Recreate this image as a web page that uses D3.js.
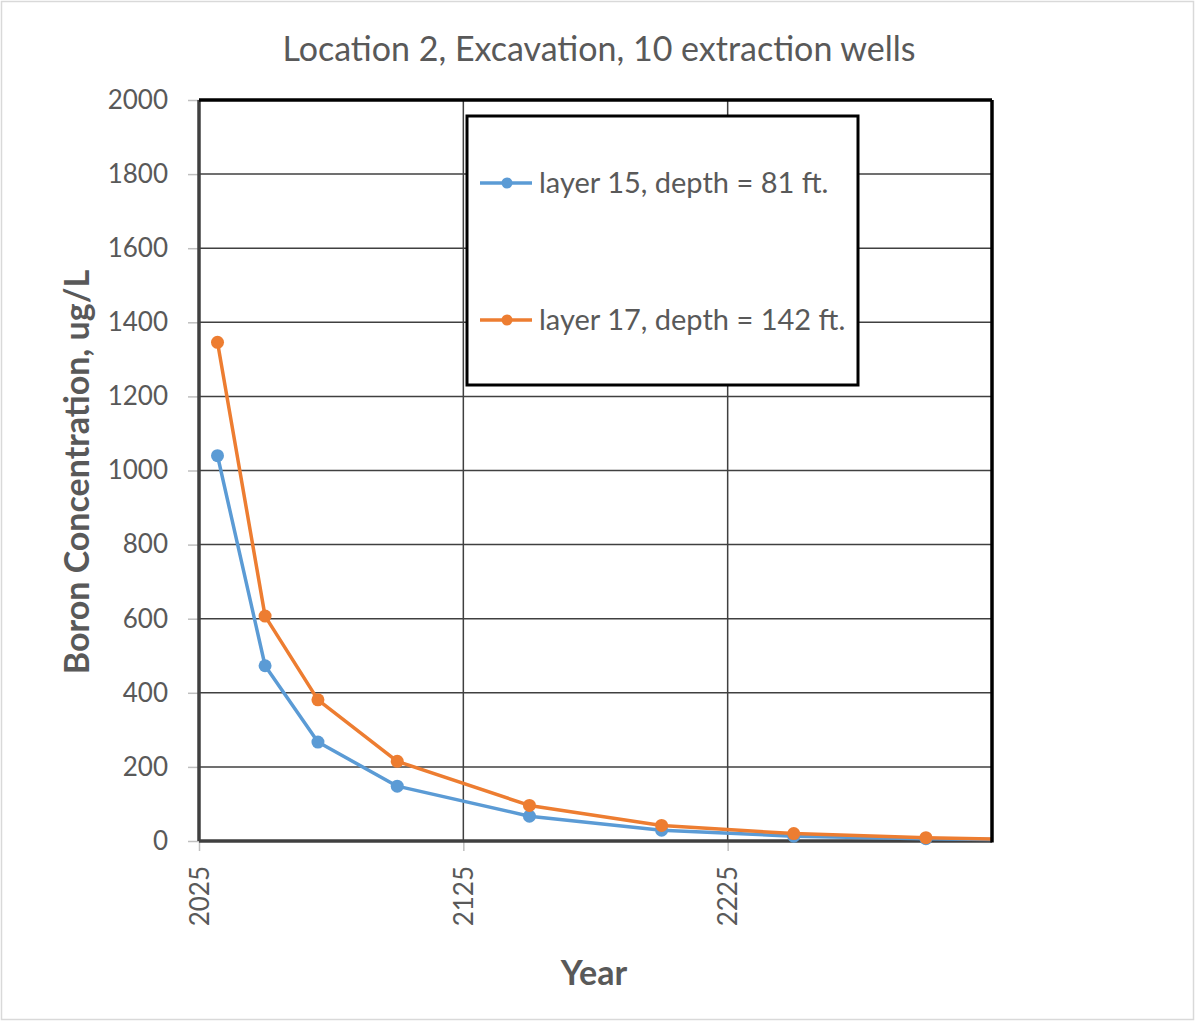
<!DOCTYPE html>
<html>
<head>
<meta charset="utf-8">
<script src="https://cdn.jsdelivr.net/npm/d3@7"></script>
<style>
  body { margin: 0; background: #fff; }
  text { font-family: Lato, "Open Sans", sans-serif; fill: #595959; }
</style>
</head>
<body>
<div id="chart"></div>
<script>
var years = [2032, 2050, 2070, 2100, 2150, 2200, 2250, 2300, 2350];
var layer15 = [1040, 473, 267, 148, 67, 29, 13, 6, 2];
var layer17 = [1346, 607, 381, 215, 96, 42, 20, 9, 2];
var seriesNames = ["layer 15, depth = 81 ft.", "layer 17, depth = 142 ft."];
var seriesColors = ["#5B9BD5", "#ED7D31"];
var yTicks = [0, 200, 400, 600, 800, 1000, 1200, 1400, 1600, 1800, 2000];
var xTicks = [2025, 2125, 2225];

var svgWidth = 1196, svgHeight = 1022;
var pLeft = 199, pRight = 992, pTop = 100, pBottom = 841;

var svg = d3.select("#chart").append("svg")
    .attr("width", svgWidth)
    .attr("height", svgHeight);

// outer frame
svg.append("rect")
    .attr("x", 1.5).attr("y", 1.5)
    .attr("width", svgWidth - 4).attr("height", svgHeight - 4)
    .attr("fill", "#fff").attr("stroke", "#d9d9d9").attr("stroke-width", 1.5);

var xScale = d3.scaleLinear().domain([2025, 2325]).range([pLeft, pRight]);
var yScale = d3.scaleLinear().domain([0, 2000]).range([pBottom, pTop]);

// gridlines
svg.append("g").selectAll("line").data(yTicks).enter().append("line")
    .attr("x1", pLeft).attr("x2", pRight)
    .attr("y1", function (d) { return yScale(d); })
    .attr("y2", function (d) { return yScale(d); })
    .attr("stroke", "#404040").attr("stroke-width", 1.5);
svg.append("g").selectAll("line").data(xTicks.slice(1)).enter().append("line")
    .attr("y1", pTop).attr("y2", pBottom)
    .attr("x1", function (d) { return xScale(d); })
    .attr("x2", function (d) { return xScale(d); })
    .attr("stroke", "#404040").attr("stroke-width", 1.5);

// axes
var yAxis = d3.axisLeft(yScale).tickValues(yTicks).tickFormat(d3.format("d")).tickSize(11).tickPadding(20);
var gy = svg.append("g").attr("transform", "translate(" + pLeft + ",0)").call(yAxis);
gy.select(".domain").remove();
gy.selectAll(".tick line").attr("stroke", "#bfbfbf").attr("stroke-width", 1.5);
gy.selectAll(".tick text").style("font-size", "26px").attr("fill", "#595959");

var xAxis = d3.axisBottom(xScale).tickValues(xTicks).tickFormat(d3.format("d")).tickSize(10);
var gx = svg.append("g").attr("transform", "translate(0," + pBottom + ")").call(xAxis);
gx.select(".domain").remove();
gx.selectAll(".tick line").attr("stroke", "#bfbfbf").attr("stroke-width", 1.5);
gx.selectAll(".tick text")
    .style("font-size", "26px").attr("fill", "#595959")
    .attr("transform", "rotate(-90)")
    .attr("text-anchor", "end")
    .attr("x", -25).attr("y", 0).attr("dy", "0.35em");

// plot border
svg.append("line").attr("x1", pLeft).attr("x2", pLeft).attr("y1", pTop).attr("y2", pBottom)
    .attr("stroke", "#404040").attr("stroke-width", 3.5);
svg.append("line").attr("x1", pLeft).attr("x2", pRight).attr("y1", pBottom).attr("y2", pBottom)
    .attr("stroke", "#404040").attr("stroke-width", 3.5);

// clip
svg.append("clipPath").attr("id", "plotclip").append("rect")
    .attr("x", pLeft).attr("y", pTop - 10).attr("width", pRight - pLeft).attr("height", pBottom - pTop + 20);

var series = [layer15, layer17];
var line = d3.line()
    .x(function (d, i) { return xScale(years[i]); })
    .y(function (d) { return yScale(d); });

var plot = svg.append("g").attr("clip-path", "url(#plotclip)");
series.forEach(function (vals, k) {
    plot.append("path").datum(vals)
        .attr("d", line)
        .attr("fill", "none")
        .attr("stroke", seriesColors[k])
        .attr("stroke-width", 3.5)
        .attr("stroke-linejoin", "round");
    plot.selectAll(".m" + k).data(vals.slice(0, vals.length - 1)).enter().append("circle")
        .attr("r", 6.5)
        .attr("fill", seriesColors[k])
        .attr("cx", function (d, i) { return xScale(years[i]); })
        .attr("cy", function (d) { return yScale(d); });
});

svg.append("line").attr("x1", pLeft).attr("x2", pRight).attr("y1", pTop).attr("y2", pTop)
    .attr("stroke", "#000").attr("stroke-width", 3.5);
svg.append("line").attr("x1", pRight).attr("x2", pRight).attr("y1", pTop).attr("y2", pBottom + 1.5)
    .attr("stroke", "#000").attr("stroke-width", 3.5);

// legend
var lg = svg.append("g");
lg.append("rect").attr("x", 467).attr("y", 116).attr("width", 391).attr("height", 269)
    .attr("fill", "#fff").attr("stroke", "#000").attr("stroke-width", 3);
var legY = [183, 320];
seriesNames.forEach(function (name, k) {
    lg.append("line").attr("x1", 480).attr("x2", 532).attr("y1", legY[k]).attr("y2", legY[k])
        .attr("stroke", seriesColors[k]).attr("stroke-width", 3.5);
    lg.append("circle").attr("cx", 507).attr("cy", legY[k]).attr("r", 5.5).attr("fill", seriesColors[k]);
    lg.append("text").attr("x", 539).attr("y", legY[k]).attr("dy", "0.35em")
        .style("font-size", "29px").text(name);
});

// titles
svg.append("text").attr("x", 599).attr("y", 49).attr("dy", "0.35em")
    .attr("text-anchor", "middle").style("font-size", "34px")
    .text("Location 2, Excavation, 10 extraction wells");

svg.append("text").attr("x", 594).attr("y", 973).attr("dy", "0.35em")
    .attr("text-anchor", "middle").style("font-size", "34px").style("font-weight", "bold")
    .text("Year");

svg.append("text").attr("transform", "translate(77,472) rotate(-90)").attr("dy", "0.35em")
    .attr("text-anchor", "middle").style("font-size", "34px").style("font-weight", "bold")
    .text("Boron Concentration, ug/L");
</script>
</body>
</html>
